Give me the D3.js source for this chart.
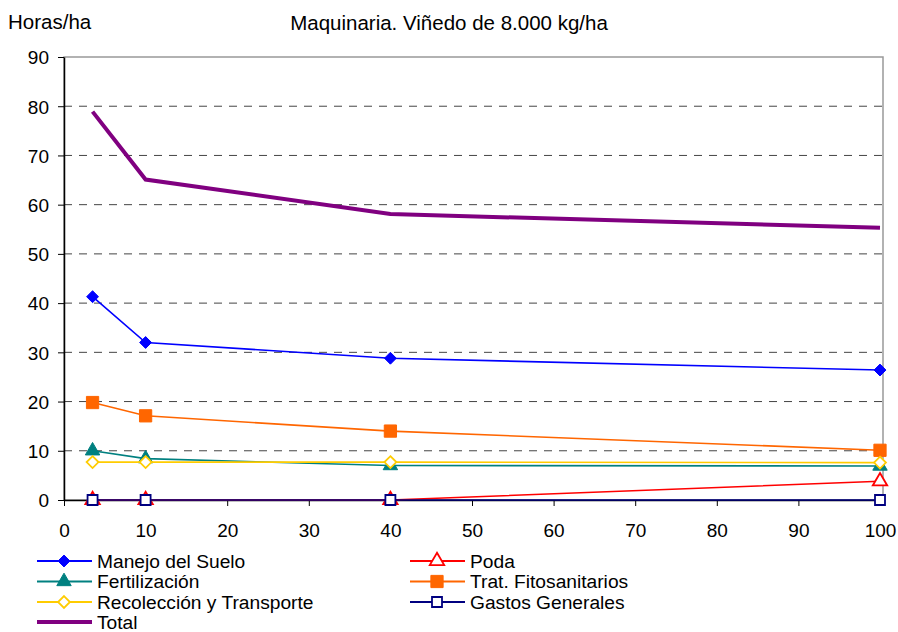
<!DOCTYPE html>
<html><head><meta charset="utf-8">
<script src="https://cdn.jsdelivr.net/npm/d3@7"></script>
<style>body{margin:0;background:#fff;font-family:"Liberation Sans",Arial,sans-serif;}</style>
</head><body><svg id="c" width="898" height="632"></svg>
<script>
const xValues = [3.5, 10, 40, 100];
const manejo = [41.3, 32.0, 28.8, 26.4];
const poda = [0, 0, 0, 3.8];
const fertilizacion = [10.0, 8.4, 7.0, 6.9];
const tratamientos = [19.8, 17.1, 14.0, 10.1];
const recoleccion = [7.7, 7.7, 7.7, 7.6];
const gastos = [0, 0, 0, 0];
const total = [78.9, 65.1, 58.1, 55.3];
const xTicks = [0,10,20,30,40,50,60,70,80,90,100];
const yTicks = [0,10,20,30,40,50,60,70,80,90];

const series = [
  {name:"Manejo del Suelo", values:manejo, color:"#0000FF", marker:"diamond", fill:"#0000FF", w:1.6},
  {name:"Poda", values:poda, color:"#FF0000", marker:"triangle", fill:"#fff", w:1.6},
  {name:"Fertilización", values:fertilizacion, color:"#008080", marker:"triangle", fill:"#008080", w:1.6},
  {name:"Trat. Fitosanitarios", values:tratamientos, color:"#FF6600", marker:"square", fill:"#FF6600", w:1.6},
  {name:"Recolección y Transporte", values:recoleccion, color:"#FFCC00", marker:"diamond", fill:"#fff", w:1.6},
  {name:"Gastos Generales", values:gastos, color:"#000080", marker:"square", fill:"#fff", w:1.6},
  {name:"Total", values:total, color:"#800080", marker:null, w:4}
];

const svg = d3.select("#c");
const L=64, R=880, T=57, B=500;
const x = d3.scaleLinear().domain([0,100]).range([L,R]);
const y = d3.scaleLinear().domain([0,90]).range([B,T]);

svg.append("rect").attr("x",L).attr("y",T).attr("width",883-L).attr("height",B-T)
  .attr("fill","none").attr("stroke","#999").attr("stroke-width",1.5);
svg.append("g").selectAll("line").data(yTicks.filter(d=>d>0 && d<90)).join("line")
  .attr("x1",L).attr("x2",883).attr("y1",d=>y(d)).attr("y2",d=>y(d))
  .attr("stroke","#444").attr("stroke-dasharray","8,7").attr("stroke-width",1);

const yAxis = svg.append("g").attr("transform",`translate(${L},0)`)
  .call(d3.axisLeft(y).tickValues(yTicks).tickSize(6).tickSizeOuter(0));
const xAxis = svg.append("g").attr("transform",`translate(0,${B})`)
  .call(d3.axisBottom(x).tickValues(xTicks).tickSize(6).tickSizeOuter(0));
[yAxis,xAxis].forEach(g=>{
  g.select(".domain").attr("stroke","#000").attr("stroke-width",1.5);
  g.selectAll(".tick line").attr("stroke","#000");
  g.selectAll("text").attr("font-family","Liberation Sans, Arial, sans-serif").attr("font-size",19).attr("fill","#000");
});
yAxis.selectAll("text").attr("x",-15).attr("dy","0.36em");
xAxis.selectAll("text").attr("y",37).attr("dy",0);

function drawMarker(g, s, cx, cy){
  if(!s.marker) return;
  let type, size;
  if(s.marker==="diamond"){ type=d3.symbolDiamond2; size=90; }
  else if(s.marker==="square"){ type=d3.symbolSquare; size = s.fill==="#fff"?100:150; }
  else { type=d3.symbolTriangle; size=90; }
  g.append("path")
    .attr("d", d3.symbol().type(type).size(size)())
    .attr("transform",`translate(${cx},${cy})`)
    .attr("fill",s.fill).attr("stroke",s.color).attr("stroke-width",s.fill==="#fff"?1.8:1);
}

const line = d3.line().x((d,i)=>x(xValues[i])).y(d=>y(d));
const order = [0,2,3,4,1,5,6];
order.forEach(k=>{
  const s = series[k];
  const g = svg.append("g");
  g.append("path").datum(s.values).attr("d",line).attr("fill","none")
    .attr("stroke",s.color).attr("stroke-width",s.w).attr("stroke-linejoin","miter");
  s.values.forEach((v,i)=>drawMarker(g,s,x(xValues[i]),y(v)));
});

svg.append("text").attr("x",8).attr("y",29).text("Horas/ha")
  .attr("font-size",20.5).attr("fill","#000");
svg.append("text").attr("x",449).attr("y",30).attr("text-anchor","middle")
  .text("Maquinaria. Viñedo de 8.000 kg/ha").attr("font-size",20.5).attr("fill","#000");

const legPos = [
  [37,561],[410,561],[37,581.5],[410,581.5],[37,602],[410,602],[37,622]
];
series.forEach((s,i)=>{
  const [lx,ly] = legPos[i];
  const g = svg.append("g");
  g.append("line").attr("x1",lx).attr("x2",lx+55).attr("y1",ly).attr("y2",ly)
    .attr("stroke",s.color).attr("stroke-width",s.w===4?4:1.8);
  drawMarker(g,s,lx+27,ly);
  g.append("text").attr("transform",`translate(${lx+60},${ly+6.5}) scale(1.13,1.08)`).text(s.name)
    .attr("font-size",17).attr("fill","#000");
});
</script></body></html>
